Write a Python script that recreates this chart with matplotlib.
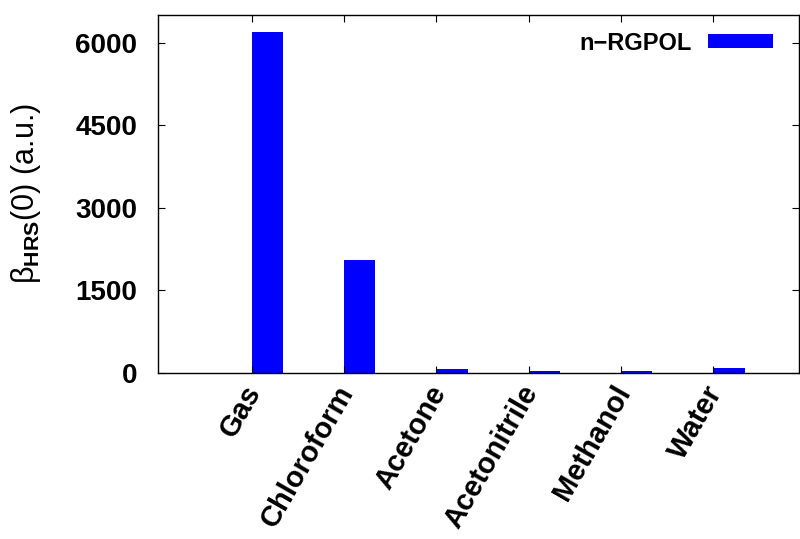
import matplotlib.pyplot as plt
import matplotlib.transforms as mtransforms
import numpy as np

solvents = ["Gas", "Chloroform", "Acetone", "Acetonitrile", "Methanol", "Water"]
beta_hrs = [6200, 2060, 65, 40, 45, 85]
yticks = [0, 1500, 3000, 4500, 6000]

plt.rcParams['font.family'] = ['Liberation Sans', 'DejaVu Sans']
plt.rcParams['mathtext.fontset'] = 'custom'
plt.rcParams['mathtext.rm'] = 'Liberation Sans'
plt.rcParams['mathtext.bf'] = 'Liberation Sans:bold'

fig = plt.figure(figsize=(8, 5.39), dpi=100)
ax = fig.add_axes([158/800, 1 - 373/539, 641/800, 358/539])

x = np.arange(len(solvents))
ax.bar(x, beta_hrs, width=0.34, align='edge', color='#0000ff', label='n\u2212RGPOL')

ax.set_xlim(-1.014, 5.93)
ax.set_ylim(0, 6500)
ax.set_xticks(x)
ax.set_yticks(yticks)
ax.tick_params(direction='in', length=5, width=0.8, top=True, right=True)
ax.tick_params(axis='x', pad=9)
ax.tick_params(axis='y', pad=15)
ax.set_xticklabels(solvents, rotation=60, ha='right', va='top', rotation_mode='anchor',
                   fontsize=21, fontweight='bold')
ax.set_yticklabels([str(v) for v in yticks], fontsize=20, fontweight='bold')
# nudge the slanted labels to sit like the original
shift = mtransforms.ScaledTranslation(-9/100, 5/100, fig.dpi_scale_trans)
for lbl in ax.get_xticklabels():
    lbl.set_transform(lbl.get_transform() + shift)
for s in ax.spines.values():
    s.set_linewidth(1.0)

ax.set_ylabel('\u03b2$_{\\mathbf{HRS}}$(0) (a.u.)', fontsize=22)
ax.yaxis.set_label_coords(-0.18, 0.5)

leg = ax.legend(loc='upper right', bbox_to_anchor=(1.0, 1.026), frameon=False,
                markerfirst=False, prop={'weight': 'bold', 'size': 17},
                handlelength=2.75, handleheight=0.55, handletextpad=0.68,
                borderaxespad=0.7)

fig.savefig('out.png', dpi=100)
